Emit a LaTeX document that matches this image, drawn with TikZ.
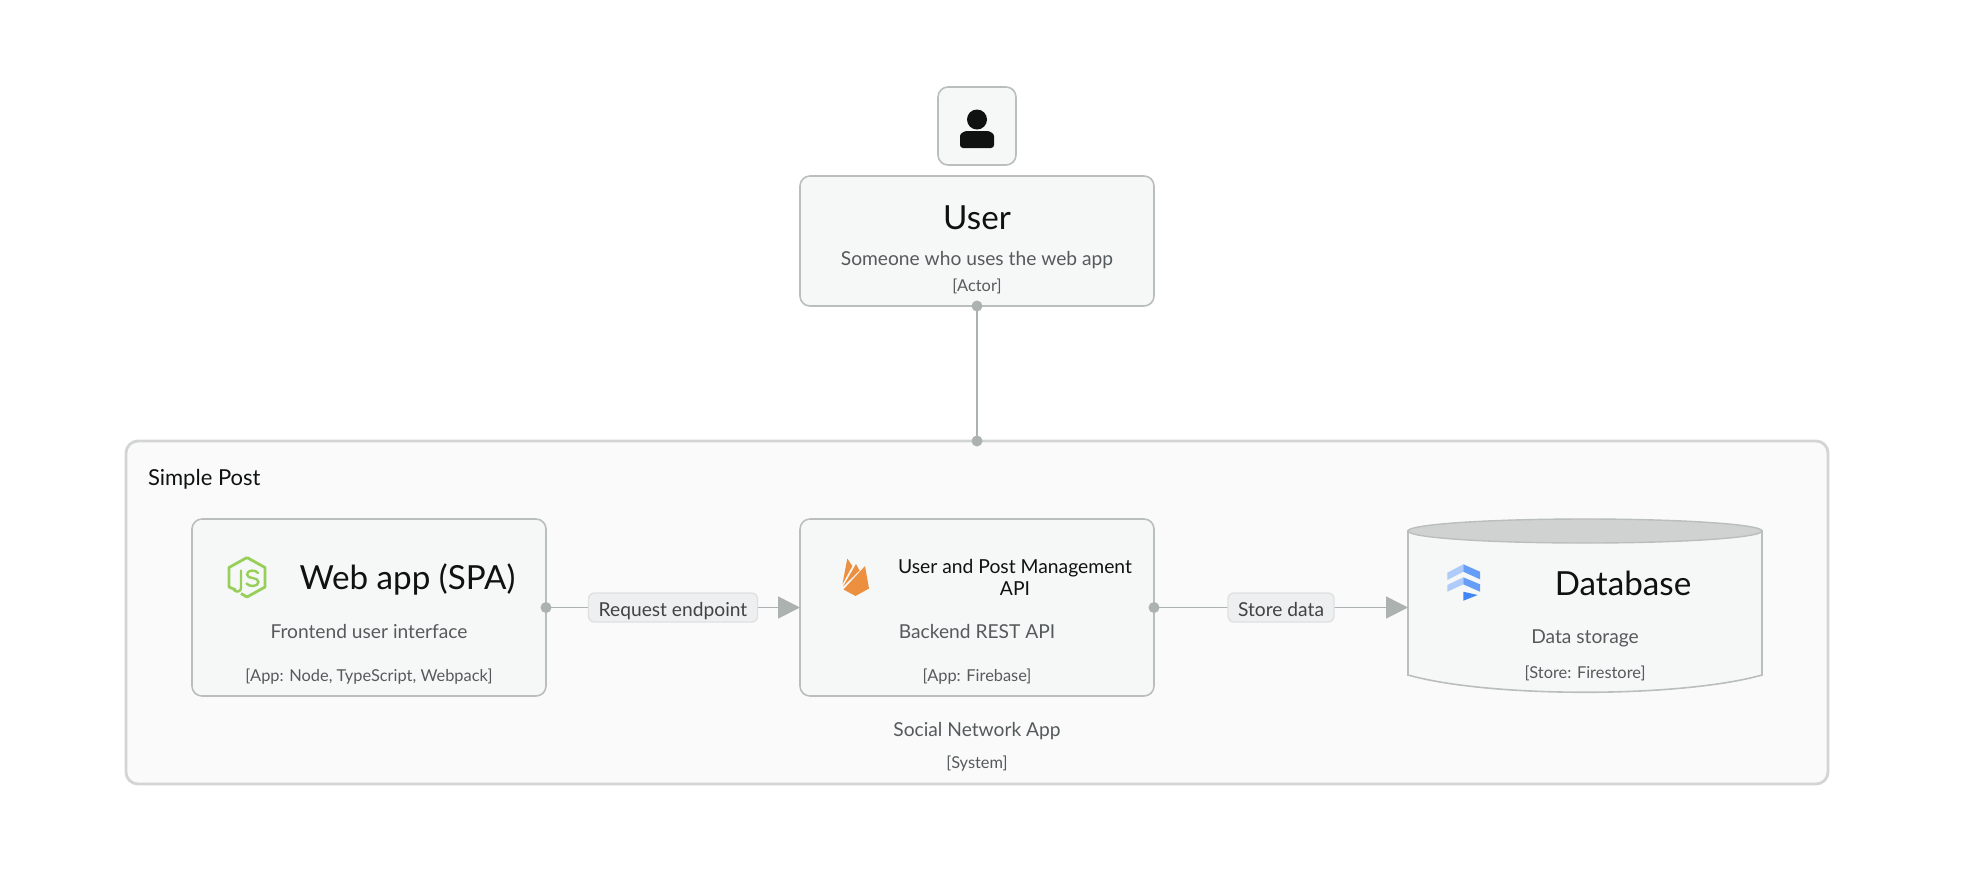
\documentclass[tikz,border=0pt]{standalone}
\usepackage{fontspec}
\setmainfont{Lato}
\usetikzlibrary{arrows.meta}
\definecolor{boxfill}{HTML}{F6F8F8}
\definecolor{boxline}{HTML}{BABEBD}
\definecolor{sysfill}{HTML}{FAFAFA}
\definecolor{sysline}{HTML}{D3D5D5}
\definecolor{conn}{HTML}{ACB2B0}
\definecolor{ink}{HTML}{101212}
\definecolor{soft}{HTML}{555A5C}
\definecolor{dbtop}{HTML}{D0D2D1}
\definecolor{lblfill}{HTML}{EDEFF0}
\definecolor{lblline}{HTML}{DFE1E1}
\definecolor{nodegreen}{HTML}{98CF58}
\definecolor{fireorange}{HTML}{EC8F3F}
\definecolor{fslight}{HTML}{AECBFA}
\definecolor{fsmid}{HTML}{669DF6}
\definecolor{fsdark}{HTML}{4285F4}
\tikzset{
  card/.style={draw=boxline,fill=boxfill,line width=0.8pt,rounded corners=5pt,inner sep=0pt,outer sep=0pt},
  sysbox/.style={draw=sysline,fill=sysfill,line width=1.4pt,rounded corners=6pt,inner sep=0pt,outer sep=0pt},
  anchorbox/.style={inner sep=0pt,outer sep=0pt},
  txt/.style={inner sep=0pt,outer sep=0pt,anchor=base,align=center},
  ttl/.style={txt,text=ink,font=\fontsize{16.6}{20}\selectfont},
  ttlsmall/.style={txt,text=ink,font=\fontsize{9.65}{12}\selectfont},
  desc/.style={txt,text=soft,font=\fontsize{9.6}{12}\selectfont},
  meta/.style={txt,text=soft,font=\fontsize{8.2}{10}\selectfont},
  link/.style={draw=conn,line width=0.8pt},
  flow/.style={link,-{Triangle[length=11pt,width=11pt,fill=conn]}},
  lbl/.style={draw=lblline,fill=lblfill,line width=0.7pt,rounded corners=3pt,inner sep=0pt,outer sep=0pt,
    text=soft!75!black,font=\fontsize{9.6}{12}\selectfont,minimum height=14.5pt,text height=9.5pt,text depth=1pt},
  dot/.style={fill=conn}
}
\begin{document}
\begin{tikzpicture}[x=0.5pt,y=-0.5pt]
\useasboundingbox[fill=white] (0,0) rectangle (1962,890);
% system boundary
\node[sysbox,minimum width=851pt,minimum height=171.5pt] (sys) at (977,612.5) {};
\node[txt,anchor=base west,text=ink,font=\fontsize{11}{13}\selectfont] (sysname) at (148,485) {Simple Post};
\node[desc] (sysdesc) at (977,736) {Social Network App};
\node[meta] (systag) at (977,768) {[System]};
% actor
\node[card,minimum width=39pt,minimum height=39pt] (icon) at (977,126) {};
\fill[ink] (977,119.5) circle (5pt);
\fill[ink,rounded corners=1.5pt] (960,148) -- (960,139) .. controls (960,133) and (965,131) .. (970,131) -- (984,131) .. controls (989,131) and (994,133) .. (994,139) -- (994,148) -- cycle;
\node[card,minimum width=177pt,minimum height=65pt] (user) at (977,241) {};
\node[ttl] (usert) at (977,229) {User};
\node[desc] (userd) at (977,265) {Someone who uses the web app};
\node[meta] (userm) at (977,291) {[Actor]};
% web app
\node[card,minimum width=177pt,minimum height=88.5pt] (web) at (369,607.5) {};
\node[ttl] (webt) at (407.5,589.5) {Web app (SPA)};
\node[desc] (webd) at (369,638) {Frontend user interface};
\node[meta] (webm) at (369,681) {[App: Node, TypeScript, Webpack]};
\begin{scope}[draw=nodegreen,line width=1.4pt,line join=round]
\draw (247,557.5) -- (265,567.5) -- (265,587) -- (247,597) -- (241,593.5);
\draw (236,590) -- (229,587) -- (229,567.5) -- (247,557.5);
\draw[line width=1.2pt,line cap=round] (241,570.5) -- (241,588) .. controls (241,592) and (236,592.5) .. (234,590);
\draw[line width=1.2pt,line cap=round] (258,573) .. controls (256,569.5) and (247,569.5) .. (247,574.5) .. controls (247,579.5) and (258.5,576.5) .. (258.5,582) .. controls (258.5,587) and (249,587) .. (246.5,583.5);
\end{scope}
% api
\node[card,minimum width=177pt,minimum height=88.5pt] (api) at (977,607.5) {};
\node[ttlsmall] (apit) at (1015,573.5) {User and Post Management};
\node[ttlsmall] (apit2) at (1015,595.5) {API};
\node[desc] (apid) at (977,638) {Backend REST API};
\node[meta] (apim) at (977,681) {[App: Firebase]};
\fill[fireorange,line join=round] (843.5,589.5) -- (865,566) -- (869,588.5) -- (855.5,596) -- cycle;
\fill[fireorange] (843,586.5) -- (856,564) -- (859.5,570.5) -- cycle;
\fill[fireorange] (842.5,584) -- (847.3,558.5) -- (852.3,566) -- cycle;
% database
\node[anchorbox,minimum width=177pt,minimum height=86.5pt] (db) at (1585,607.5) {};
\draw[fill=boxfill,draw=boxline,line width=0.8pt] (1408,531) -- (1408,675) .. controls (1490,698) and (1680,698) .. (1762,675) -- (1762,531) -- cycle;
\draw[fill=dbtop,draw=boxline,line width=0.7pt] (1585,531) ellipse [x radius=88.5pt,y radius=6pt];
\node[ttl] (dbt) at (1623,595.5) {Database};
\node[desc] (dbd) at (1585,643) {Data storage};
\node[meta] (dbm) at (1585,678) {[Store: Firestore]};
\fill[fslight] (1447.3,572.7) -- (1463.3,564.3) -- (1463.3,571.7) -- (1447.3,580) -- cycle;
\fill[fsmid] (1463.3,564.3) -- (1480,571.7) -- (1480,579.3) -- (1463.3,571.7) -- cycle;
\fill[fslight] (1447.3,585) -- (1463.3,577.3) -- (1463.3,584.3) -- (1447.3,591.7) -- cycle;
\fill[fsmid] (1463.3,577.3) -- (1480,584.3) -- (1480,591.7) -- (1463.3,584.3) -- cycle;
\fill[fsdark] (1463.3,591.7) -- (1477.7,595) -- (1463.3,600.7) -- cycle;
% connectors
\draw[link] (user.south) -- (sys.north);
\draw[flow] (web.east) -- node[lbl,minimum width=84.5pt] (lbla) {Request endpoint} (api.west);
\draw[flow] (api.east) -- node[lbl,minimum width=53pt] (lblb) {Store data} (db.west);
\fill[dot] (user.south) circle (2.75pt);
\fill[dot] (sys.north) circle (2.75pt);
\fill[dot] (web.east) circle (2.75pt);
\fill[dot] (api.east) circle (2.75pt);
\end{tikzpicture}
\end{document}
